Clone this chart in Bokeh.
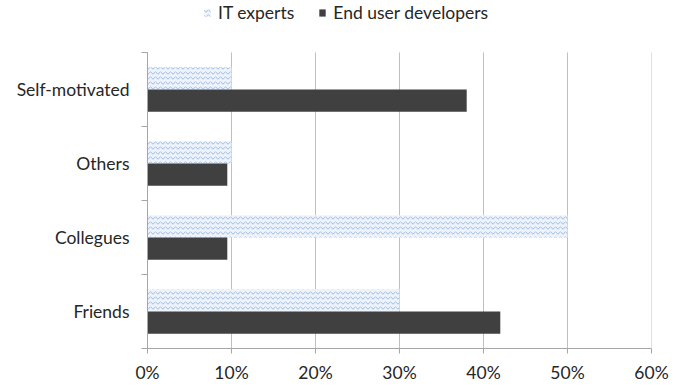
from bokeh.plotting import figure
from bokeh.models import FixedTicker, NumeralTickFormatter, Legend, LegendItem, ColumnDataSource, Range1d
from bokeh.embed import file_html
from bokeh.resources import INLINE

categories = ["Friends", "Collegues", "Others", "Self-motivated"]
it_experts = [0.30, 0.50, 0.10, 0.10]
end_user_devs = [0.42, 0.095, 0.095, 0.38]
x_ticks = [0, 0.1, 0.2, 0.3, 0.4, 0.5, 0.6]

n = len(categories)
pos = [i + 0.5 for i in range(n)]
src = ColumnDataSource(dict(cat=categories, pos=pos, it=it_experts, eud=end_user_devs,
                            pos_it=[p_ + 0.15 for p_ in pos], pos_eud=[p_ - 0.15 for p_ in pos]))

FONT = "Lato"
FS = "17.5px"
TXT = "#262626"
GRAY = "#A6A6A6"

p = figure(width=682, height=388, output_backend="svg", toolbar_location=None,
           x_range=Range1d(0, 0.6), y_range=Range1d(0, n + 52 / 74),
           min_border_left=147, min_border_right=31, min_border_top=0, min_border_bottom=40)
p.outline_line_color = None
p.background_fill_color = "white"
p.xgrid.grid_line_color = None
p.ygrid.grid_line_color = None

# vertical gridlines limited to the category area
p.segment(x0=x_ticks, y0=[0] * len(x_ticks), x1=x_ticks, y1=[n] * len(x_ticks),
          line_color="#BFBFBF", line_width=1)

r_it = p.hbar(y="pos_it", right="it", left=0, height=0.30, source=src,
              fill_color="#EEF3FB", line_color=None,
              hatch_pattern="horizontal_wave", hatch_color="#9DBBE2", hatch_scale=5, hatch_weight=1)
r_eud = p.hbar(y="pos_eud", right="eud", left=0, height=0.30, source=src,
               fill_color="#404040", line_color=None)

p.xaxis.ticker = FixedTicker(ticks=x_ticks)
p.xaxis.formatter = NumeralTickFormatter(format="0%")
p.xaxis.axis_line_color = GRAY
p.xaxis.major_tick_line_color = GRAY
p.xaxis.major_tick_out = 5
p.xaxis.major_tick_in = 0
p.xaxis.minor_tick_line_color = None
p.xaxis.major_label_text_font = FONT
p.xaxis.major_label_text_font_size = FS
p.xaxis.major_label_text_color = TXT
p.xaxis.major_label_standoff = 8

p.yaxis.bounds = (0, n)
p.yaxis.ticker = FixedTicker(ticks=pos, minor_ticks=list(range(n + 1)))
p.yaxis.major_label_overrides = {pv: c for pv, c in zip(pos, categories)}
p.yaxis.axis_line_color = GRAY
p.yaxis.major_tick_line_color = None
p.yaxis.minor_tick_line_color = GRAY
p.yaxis.minor_tick_out = 6
p.yaxis.minor_tick_in = 0
p.yaxis.major_label_text_font = FONT
p.yaxis.major_label_text_font_size = FS
p.yaxis.major_label_text_color = TXT
p.yaxis.major_label_standoff = 12

legend = Legend(items=[LegendItem(label="IT experts", renderers=[r_it]),
                       LegendItem(label="End user developers", renderers=[r_eud])],
                orientation="horizontal", location=(56, 325),
                label_text_font=FONT, label_text_font_size=FS, label_text_color=TXT,
                glyph_width=8, glyph_height=9, spacing=24, padding=0, margin=0,
                border_line_color=None, background_fill_alpha=0, label_standoff=7)
p.add_layout(legend, "center")

open("out.html", "w").write(file_html(p, INLINE))
